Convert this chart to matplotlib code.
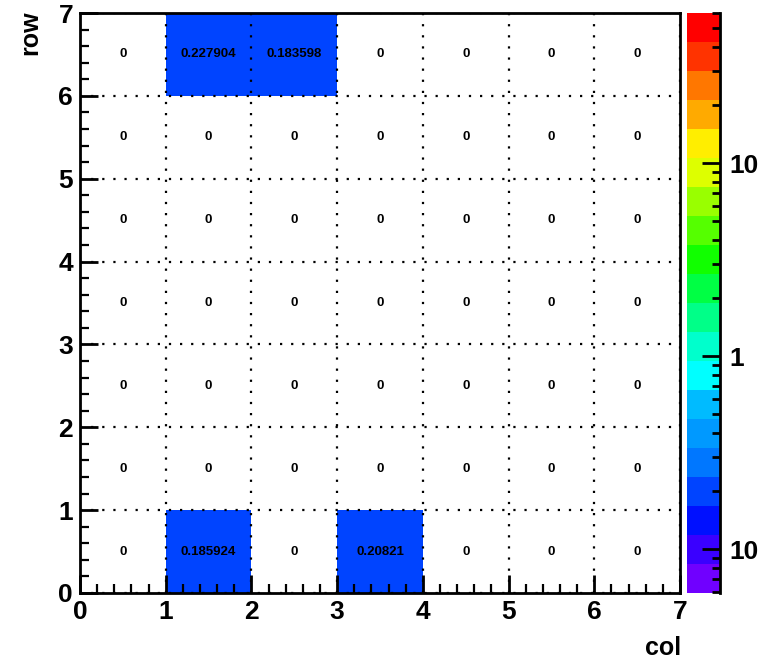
import numpy as np
import matplotlib
matplotlib.use("Agg")
import matplotlib.pyplot as plt
from matplotlib.colors import ListedColormap, LogNorm
from matplotlib.ticker import FixedLocator, FixedFormatter, MultipleLocator

plt.rcParams['font.family'] = ['Liberation Sans', 'DejaVu Sans']
plt.rcParams['font.weight'] = 'bold'

# histogram contents, rows 0..6 (bottom to top), cols 0..6
cols = np.arange(8)
rows = np.arange(8)
values = np.zeros((7, 7))
values[0, 1] = 0.185924
values[0, 3] = 0.20821
values[6, 1] = 0.227904
values[6, 2] = 0.183598

zmin, zmax = 0.0594, 60.1

# palette, bottom -> top (20 bands)
palette = ['#7000ff', '#3a00ff', '#0010ff', '#0044ff', '#0077ff', '#0099ff',
           '#00bbff', '#00ffff', '#00ffcc', '#00ff88', '#00ff44', '#11ff00',
           '#55ff00', '#99ff00', '#ddff00', '#ffee00', '#ffaa00', '#ff7700',
           '#ff3300', '#ff0000']
cmap = ListedColormap(palette)

fig = plt.figure(figsize=(7.65, 6.63), dpi=100)
W, H = 765, 663
ax = fig.add_axes([80 / W, (H - 593) / H, 600 / W, 580 / H])
cax = fig.add_axes([687 / W, (H - 593) / H, 33 / W, 580 / H])

masked = np.ma.masked_where(values <= 0, values)
mesh = ax.pcolormesh(cols, rows, masked, cmap=cmap,
                     norm=LogNorm(vmin=zmin, vmax=zmax))

for r in range(7):
    for c in range(7):
        ax.text(c + 0.5, r + 0.5, '%g' % values[r, c], ha='center', va='center',
                fontsize=9.5, fontweight='bold')

ax.set_xlim(0, 7)
ax.set_ylim(0, 7)
ax.xaxis.set_major_locator(MultipleLocator(1))
ax.yaxis.set_major_locator(MultipleLocator(1))
ax.xaxis.set_minor_locator(MultipleLocator(0.2))
ax.yaxis.set_minor_locator(MultipleLocator(0.2))
ax.tick_params(which='major', direction='in', length=13, width=2,
               labelsize=19, pad=5)
ax.tick_params(which='minor', direction='in', length=6.5, width=1.6)
ax.grid(True, which='major', color='black', linestyle=(0, (1, 4)), linewidth=1.6)
for s in ax.spines.values():
    s.set_linewidth(2)
for lab in ax.get_xticklabels() + ax.get_yticklabels():
    lab.set_fontweight('bold')

fig.text(663 / W, 1 - 648 / H, 'col', ha='center', va='center', fontsize=18,
         fontweight='bold')
fig.text(30 / W, 1 - 33 / H, 'row', ha='center', va='center', fontsize=18,
         fontweight='bold', rotation=90)

cb = fig.colorbar(mesh, cax=cax)
cb.outline.set_visible(False)
cax.spines['right'].set_visible(True)
cax.spines['right'].set_linewidth(2)
cax.yaxis.set_major_locator(FixedLocator([0.1, 1, 10]))
cax.yaxis.set_major_formatter(FixedFormatter(['10', '1', '10']))
minor = [m * d for d in (0.01, 0.1, 1, 10) for m in range(2, 10)]
minor = [v for v in minor if zmin <= v <= zmax]
cax.yaxis.set_minor_locator(FixedLocator(minor))
cax.yaxis.set_minor_formatter(FixedFormatter([''] * len(minor)))
cax.tick_params(which='major', direction='in', length=13, width=2,
                labelsize=19, pad=7)
cax.tick_params(which='minor', direction='in', length=6, width=2)
for lab in cax.get_yticklabels():
    lab.set_fontweight('bold')

fig.savefig('out.png', dpi=100)
